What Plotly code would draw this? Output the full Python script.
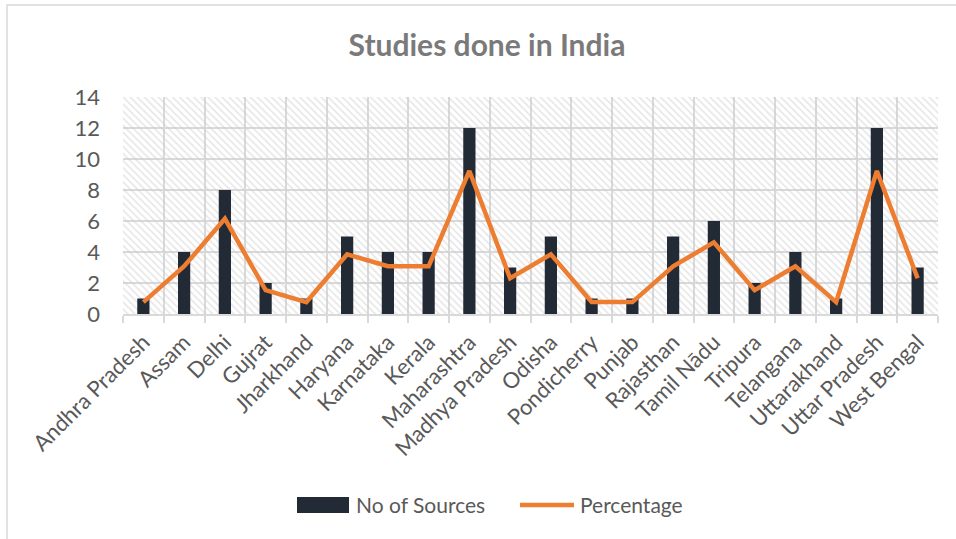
import plotly.graph_objects as go

states = ["Andhra Pradesh", "Assam", "Delhi", "Gujrat", "Jharkhand", "Haryana", "Karnataka",
          "Kerala", "Maharashtra", "Madhya Pradesh", "Odisha", "Pondicherry", "Punjab",
          "Rajasthan", "Tamil Nādu", "Tripura", "Telangana", "Uttarakhand", "Uttar Pradesh",
          "West Bengal"]
no_of_sources = [1, 4, 8, 2, 1, 5, 4, 4, 12, 3, 5, 1, 1, 5, 6, 2, 4, 1, 12, 3]
percentage = [0.77, 3.08, 6.15, 1.54, 0.77, 3.85, 3.08, 3.08, 9.23, 2.31, 3.85, 0.77, 0.77,
              3.08, 4.62, 1.54, 3.08, 0.77, 9.23, 2.31]
y_ticks = [0, 2, 4, 6, 8, 10, 12, 14]

FONT = "Lato, Open Sans, sans-serif"
BAR_COLOR = "#222a35"
LINE_COLOR = "#ed7d31"
n = len(states)
xs = list(range(n))
ymax = y_ticks[-1]

# plot area in page pixels
PL, PR, PT, PB = 123, 938, 97, 314
W, H = 956, 539


def px(x):
    return (x - PL) / (PR - PL)


def py(y):
    return (PB - y) / (PB - PT)


fig = go.Figure()
# hatched plot-area background
fig.add_trace(go.Bar(
    x=[(n - 1) / 2], y=[ymax], width=[n], showlegend=False, hoverinfo="skip",
    marker=dict(color="rgba(0,0,0,0)", line=dict(width=0),
                pattern=dict(shape="\\", fgcolor="#cccccc", bgcolor="rgba(0,0,0,0)",
                             size=5, solidity=0.3, fillmode="overlay")),
))
fig.add_trace(go.Bar(
    x=xs, y=no_of_sources, name="No of Sources", width=0.3, showlegend=False,
    marker=dict(color=BAR_COLOR, line=dict(width=0)),
))
fig.add_trace(go.Scatter(
    x=xs, y=percentage, name="Percentage", mode="lines", showlegend=False,
    line=dict(color=LINE_COLOR, width=4.5),
))

shapes = [
    # outer chart border
    dict(type="rect", xref="paper", yref="paper",
         x0=px(7), x1=1.5, y0=-2, y1=py(5),
         line=dict(color="#d9d9d9", width=1.5), layer="below"),
    # legend swatches
    dict(type="rect", xref="paper", yref="paper",
         x0=px(297), x1=px(349), y0=py(513), y1=py(497),
         fillcolor=BAR_COLOR, line=dict(width=0)),
    dict(type="line", xref="paper", yref="paper",
         x0=px(520), x1=px(574), y0=py(505), y1=py(505),
         line=dict(color=LINE_COLOR, width=4.5)),
]
annotations = [
    dict(text="No of Sources", xref="paper", yref="paper", x=px(354), y=py(505),
         xanchor="left", yanchor="middle", showarrow=False,
         font=dict(family=FONT, size=21, color="#595959")),
    dict(text="Percentage", xref="paper", yref="paper", x=px(578), y=py(505),
         xanchor="left", yanchor="middle", showarrow=False,
         font=dict(family=FONT, size=21, color="#595959")),
]

fig.update_layout(
    width=W, height=H,
    margin=dict(l=PL, r=W - PR, t=PT, b=H - PB),
    paper_bgcolor="white", plot_bgcolor="white",
    barmode="overlay", showlegend=False,
    font=dict(family=FONT, color="#595959", size=18),
    title=dict(text="<b>Studies done in India</b>", x=487 / W, xanchor="center",
               xref="container", y=1 - 45 / H, yanchor="middle",
               font=dict(family=FONT, size=30, color="#7a7a7a")),
    xaxis=dict(range=[-0.5, n - 0.5], tickmode="array", tickvals=xs, ticktext=states,
               tickangle=-45, showgrid=False, ticks="", zeroline=False,
               showline=True, linecolor="#d9d9d9", linewidth=1.5,
               ticklabelstandoff=5,
               tickfont=dict(size=22, color="#595959"),
               minor=dict(tickmode="array", tickvals=[i - 0.5 for i in range(n + 1)],
                          showgrid=True, gridcolor="#d9d9d9", gridwidth=1.5,
                          ticks="outside", ticklen=7, tickcolor="#d9d9d9", tickwidth=1.5),
               fixedrange=True),
    yaxis=dict(range=[0, ymax], tickvals=y_ticks, showgrid=True, gridcolor="#d9d9d9",
               gridwidth=1.5, zeroline=False, showline=False, ticks="",
               ticklabelstandoff=22, tickfont=dict(size=22, color="#595959"),
               fixedrange=True),
    shapes=shapes,
    annotations=annotations,
)

fig.write_html("out.html", config={"displayModeBar": False},
               post_script="document.body.style.margin='0';")
